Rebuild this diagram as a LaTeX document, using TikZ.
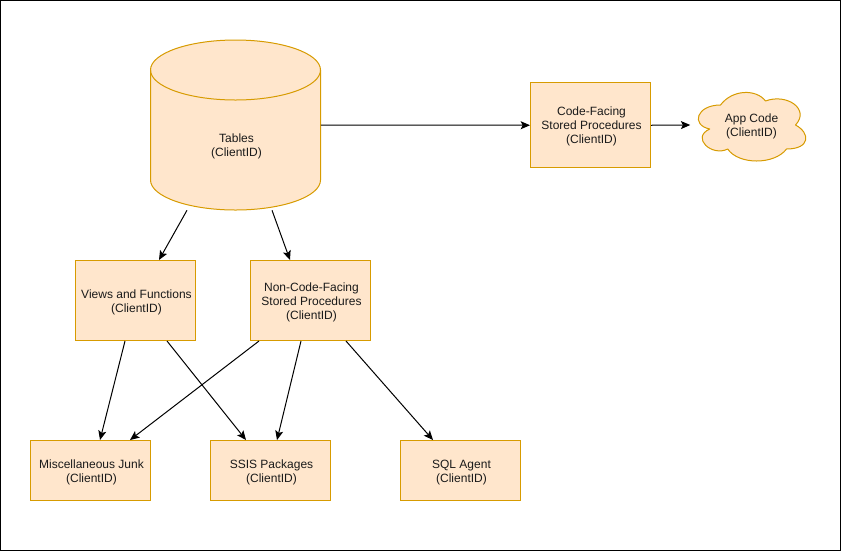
\documentclass[tikz,border=0pt]{standalone}
\usepackage{fontspec}
\setmainfont{Liberation Sans}
\usetikzlibrary{arrows.meta,calc}
\definecolor{boxfill}{HTML}{FFE6CC}
\definecolor{boxline}{HTML}{D79B00}
\definecolor{labeltext}{HTML}{1A1A1A}
\newcommand{\lbl}[1]{\kern1.5pt\begin{tabular}{@{}c@{}}\rule{0pt}{10pt}#1\end{tabular}}
\tikzset{
  box/.style={draw=boxline,fill=boxfill,line width=0.75pt,minimum width=90pt,inner sep=0pt,text=labeltext,font=\fontsize{9}{10.5}\selectfont},
  ghost/.style={inner sep=0pt,text=labeltext,font=\fontsize{9}{10.5}\selectfont},
  link/.style={draw=black,line width=0.75pt,-{Stealth[length=7pt,width=6pt,inset=1.5pt]}},
  shapeline/.style={draw=boxline,fill=boxfill,line width=0.75pt,line join=round}
}
\begin{document}
\begin{tikzpicture}[x=0.75pt,y=-0.75pt]
\useasboundingbox (0,0) rectangle (841,551);
\draw[black,line width=0.75pt] (0.5,0.5) rectangle (840.5,550.5);
% cylinder
\draw[shapeline] (150.5,70) .. controls (150.5,53.4) and (188.6,40) .. (235.5,40) .. controls (282.4,40) and (320.5,53.4) .. (320.5,70)
  -- (320.5,180) .. controls (320.5,196.6) and (282.4,210) .. (235.5,210) .. controls (188.6,210) and (150.5,196.6) .. (150.5,180) -- cycle;
\draw[draw=boxline,line width=0.75pt] (150.5,70) .. controls (150.5,86.6) and (188.6,100) .. (235.5,100) .. controls (282.4,100) and (320.5,86.6) .. (320.5,70);
\node[ghost,minimum width=127.5pt,minimum height=97.5pt] (tables) at (235.5,145) {\lbl{Tables\\(ClientID)}};
% cloud
\begin{scope}[shift={(690.5,85)},x=0.9pt,y=-0.6pt]
\draw[shapeline] (25,25) .. controls (5,25) and (0,50) .. (16,55)
  .. controls (0,66) and (18,90) .. (31,80)
  .. controls (40,100) and (70,100) .. (80,80)
  .. controls (100,80) and (100,60) .. (87.5,50)
  .. controls (100,30) and (80,10) .. (62.5,20)
  .. controls (55,5) and (35,5) .. (25,25) -- cycle;
\end{scope}
\node[ghost,minimum width=90pt,minimum height=60pt] (app) at (750.5,125) {\lbl{App Code\\(ClientID)}};
% boxes
\node[box,minimum height=63.75pt] (code) at (590.5,125.25) {\lbl{Code-Facing\\Stored Procedures\\(ClientID)}};
\node[box,minimum height=60pt] (views) at (135.5,300.5) {\lbl{Views and Functions\\(ClientID)}};
\node[box,minimum height=60pt] (noncode) at (310.5,300.5) {\lbl{Non-Code-Facing\\Stored Procedures\\(ClientID)}};
\node[box,minimum height=45pt] (misc) at (90.5,470.5) {\lbl{Miscellaneous Junk\\(ClientID)}};
\node[box,minimum height=45pt] (ssis) at (270.5,470.5) {\lbl{SSIS Packages\\(ClientID)}};
\node[box,minimum height=45pt] (agent) at (460.5,470.5) {\lbl{SQL Agent\\(ClientID)}};
% connectors
\draw[link] ($(tables.east)+(0,-20)$) -- (code.west);
\draw[link] (code.east) -- (app.west);
\draw[link] ($(tables.south)+(-48.5,0)$) -- ($(views.north)+(23.5,0)$);
\draw[link] ($(tables.south)+(36.5,0)$) -- ($(noncode.north)+(-20.5,0)$);
\draw[link] ($(views.south)+(-10.5,0)$) -- ($(misc.north)+(9.5,0)$);
\draw[link] ($(views.south)+(31.5,0)$) -- ($(ssis.north)+(-24.5,0)$);
\draw[link] ($(noncode.south)+(-51.5,0)$) -- ($(misc.north)+(39.5,0)$);
\draw[link] ($(noncode.south)+(-9.5,0)$) -- ($(ssis.north)+(6.5,0)$);
\draw[link] ($(noncode.south)+(35.5,0)$) -- ($(agent.north)+(-27.5,0)$);
\end{tikzpicture}
\end{document}
